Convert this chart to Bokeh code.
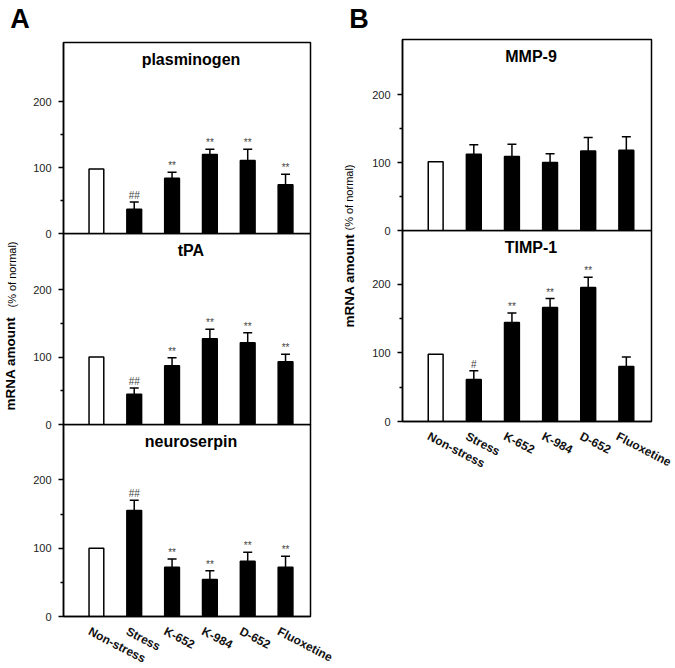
import math
from bokeh.plotting import figure
from bokeh.models import (ColumnDataSource, Range1d, FixedTicker, Label, Whisker,
                          TeeHead, LinearAxis)
from bokeh.layouts import row, column
from bokeh.core.properties import value
from bokeh.embed import file_html
from bokeh.resources import INLINE

FONT = "Liberation Sans"

categories = ["Non-stress", "Stress", "K-652", "K-984", "D-652", "Fluoxetine"]

plasminogen = [98, 37, 84, 120, 111, 74]
plasminogen_err = [0, 11, 9, 8, 17, 16]
plasminogen_sig = ["", "##", "**", "**", "**", "**"]

tpa = [100, 45, 87, 127, 121, 93]
tpa_err = [0, 9, 12, 14, 15, 11]
tpa_sig = ["", "##", "**", "**", "**", "**"]

neuroserpin = [100, 155, 72, 54, 81, 72]
neuroserpin_err = [0, 15, 12, 13, 13, 16]
neuroserpin_sig = ["", "##", "**", "**", "**", "**"]

mmp9 = [101, 112, 109, 100, 117, 118]
mmp9_err = [0, 14, 18, 13, 20, 20]
mmp9_sig = ["", "", "", "", "", ""]

timp1 = [98, 61, 144, 166, 195, 80]
timp1_err = [0, 13, 14, 13, 15, 14]
timp1_sig = ["", "#", "**", "**", "**", ""]

y_major = [0, 100, 200]
y_minor = [50, 150]

OVER = 7          # overlap so the "0" tick label can straddle two stacked panels
X_START, X_END = -0.87, 5.66
LABEL_SHIFT = 0.19  # slanted category labels start a little left of their bar


def make_panel(title, vals, errs, sigs, y_end, frame_w, frame_h,
               border_left, border_right, border_top, show_x, first):
    xs = list(range(len(categories)))
    kw = {}
    if not first:
        kw["margin"] = (-OVER, 0, 0, 0)
    p = figure(frame_width=frame_w, frame_height=frame_h,
               x_range=Range1d(X_START, X_END), y_range=Range1d(0, y_end),
               output_backend="svg", toolbar_location=None,
               min_border_left=border_left, min_border_right=border_right,
               min_border_top=border_top,
               min_border_bottom=0 if show_x else OVER, **kw)
    p.xgrid.visible = False
    p.ygrid.visible = False
    p.outline_line_color = "black"
    p.outline_line_width = 1.5
    p.background_fill_color = None
    p.border_fill_color = None

    fills = ["white"] + ["black"] * (len(categories) - 1)
    src = ColumnDataSource(dict(x=xs, top=vals, fill=fills))
    p.vbar(x="x", top="top", bottom=0, width=0.39, source=src,
           fill_color="fill", line_color="black", line_width=1.5)

    ex = [x for x, e in zip(xs, errs) if e > 0]
    el = [v for v, e in zip(vals, errs) if e > 0]
    eu = [v + e for v, e in zip(vals, errs) if e > 0]
    esrc = ColumnDataSource(dict(base=ex, lower=el, upper=eu))
    w = Whisker(base="base", lower="lower", upper="upper", source=esrc,
                line_color="black", line_width=1.5,
                lower_head=None,
                upper_head=TeeHead(size=9, line_color="black", line_width=1.5))
    p.add_layout(w)

    sx = [x for x, s in zip(xs, sigs) if s]
    sy = [v + e for v, e, s in zip(vals, errs, sigs) if s]
    st = [s for s in sigs if s]
    ssrc = ColumnDataSource(dict(x=sx, y=sy, t=st))
    p.text(x="x", y="y", text="t", source=ssrc, text_font=value(FONT),
           text_font_size="10px", text_color="#444444",
           text_align="center", text_baseline="bottom", y_offset=-1)

    p.add_layout(Label(x=2.5, y=y_end, y_offset=-17, text=title,
                       text_font=FONT, text_font_size="16px",
                       text_font_style="bold", text_align="center",
                       text_baseline="middle", text_color="black"))

    ya = p.yaxis[0]
    ya.ticker = FixedTicker(ticks=y_major, minor_ticks=y_minor)
    ya.major_tick_out = 5
    ya.major_tick_in = 0
    ya.minor_tick_out = 3
    ya.minor_tick_in = 0
    ya.major_label_standoff = 7
    ya.axis_line_color = "black"
    ya.axis_line_width = 1.5
    ya.major_tick_line_width = 1.5
    ya.minor_tick_line_width = 1.5
    ya.major_label_text_font = FONT
    ya.major_label_text_font_size = "11px"
    ya.major_label_text_color = "#222222"

    p.xaxis[0].visible = False
    if show_x:
        p.extra_x_ranges = {"lab": Range1d(X_START + LABEL_SHIFT, X_END + LABEL_SHIFT)}
        xa = LinearAxis(x_range_name="lab")
        xa.ticker = FixedTicker(ticks=xs)
        xa.major_label_overrides = {i: c for i, c in enumerate(categories)}
        xa.major_tick_line_color = None
        xa.minor_tick_line_color = None
        xa.axis_line_color = "black"
        xa.axis_line_width = 1.5
        xa.major_label_orientation = -0.48
        xa.major_label_standoff = 8
        xa.major_label_text_font = FONT
        xa.major_label_text_font_size = "12px"
        xa.major_label_text_font_style = "bold"
        xa.major_label_text_color = "#111111"
        p.add_layout(xa, "below")
    return p


def make_label_strip(width, height, letter, letter_xy, ylab_main_xy, ylab_sub_xy):
    # narrow figure holding the panel letter and the rotated y-axis title;
    # its ranges are in pixels, measured from the top-left
    s = figure(width=width, height=height, x_range=Range1d(0, width),
               y_range=Range1d(height, 0), output_backend="svg",
               toolbar_location=None, min_border=0)
    s.axis.visible = False
    s.grid.visible = False
    s.outline_line_color = None
    s.background_fill_color = None
    s.border_fill_color = None
    s.text(x=[letter_xy[0]], y=[letter_xy[1]], text=[letter],
           text_font=value(FONT), text_font_size="27px", text_font_style="bold",
           text_align="center", text_baseline="middle", text_color="black")
    s.text(x=[ylab_main_xy[0]], y=[ylab_main_xy[1]], text=["mRNA amount"],
           angle=math.pi / 2, text_font=value(FONT), text_font_size="13.5px",
           text_font_style="bold", text_align="left",
           text_baseline="middle", text_color="black")
    s.text(x=[ylab_sub_xy[0]], y=[ylab_sub_xy[1]], text=["(% of normal)"],
           angle=math.pi / 2, text_font=value(FONT), text_font_size="11px",
           text_align="left", text_baseline="middle", text_color="black")
    return s


# Panel A  (frame x: 63..310)
a1 = make_panel("plasminogen", plasminogen, plasminogen_err, plasminogen_sig,
                290, 247, 191, 33, 29, 42, False, True)
a2 = make_panel("tPA", tpa, tpa_err, tpa_sig, 283, 247, 191, 33, 29, 0, False, False)
a3 = make_panel("neuroserpin", neuroserpin, neuroserpin_err, neuroserpin_sig,
                281, 247, 192, 33, 29, 0, True, False)
stripA = make_label_strip(30, 600, "A", (19.5, 18), (10, 410), (11, 307))

# Panel B  (frame x: 402..651)
b1 = make_panel("MMP-9", mmp9, mmp9_err, mmp9_sig, 281, 249, 191, 33, 22, 39, False, True)
b2 = make_panel("TIMP-1", timp1, timp1_err, timp1_sig, 278, 249, 191, 33, 22, 0, True, False)
stripB = make_label_strip(30, 400, "B", (19.5, 18), (10, 327), (9, 230))

layout = row(stripA, column(a1, a2, a3, spacing=0),
             stripB, column(b1, b2, spacing=0), spacing=0)

open("out.html", "w").write(file_html(layout, INLINE))
